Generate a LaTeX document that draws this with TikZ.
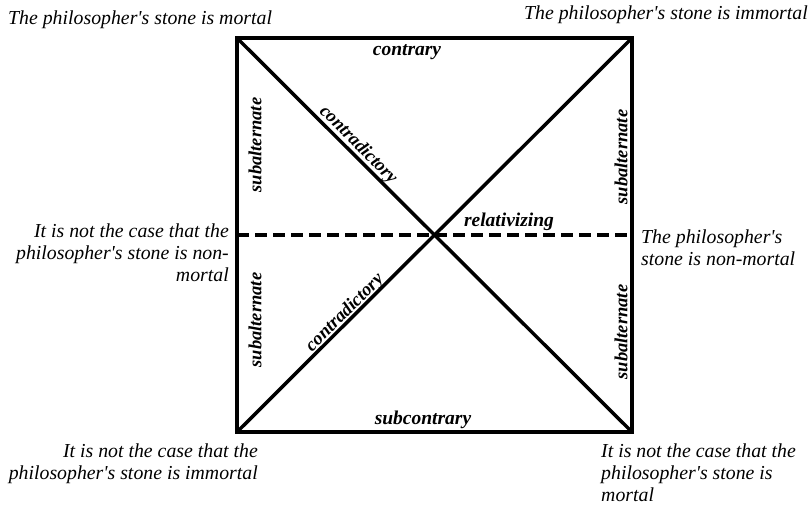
\documentclass[tikz,border=0pt]{standalone}
\usepackage{fontspec}
\setmainfont{Liberation Serif}[Ligatures=TeXOff]
\begin{document}
\begin{tikzpicture}[x=1pt,y=-1pt,
  frame/.style={line width=4pt, line join=miter},
  diag/.style={line width=3.5pt},
  dashline/.style={line width=3.5pt, dash pattern=on 12pt off 6pt},
  prop/.style={font=\fontsize{19.8}{22}\selectfont\itshape, inner sep=0pt},
  rel/.style={font=\fontsize{19.5}{21}\selectfont\bfseries\itshape, inner sep=0pt},
  relr/.style={font=\fontsize{18.5}{20}\selectfont\bfseries\itshape, inner sep=0pt}]
\useasboundingbox (0,0) rectangle (812,507);
\coordinate (TL) at (237,38);
\coordinate (TR) at (632,38);
\coordinate (BL) at (237,432);
\coordinate (BR) at (632,432);
\coordinate (ML) at (237,235);
\coordinate (MR) at (632,235);
\draw[dashline] (ML) -- (MR);
\draw[diag] (TL) -- (BR);
\draw[diag] (BL) -- (TR);
\draw[frame] (TL) -- (TR) -- (BR) -- (BL) -- cycle;
% propositions
\node[prop, anchor=base west] (A) at (8,24) {The philosopher's stone is mortal};
\node[prop, anchor=base east] (E) at (808,19) {The philosopher's stone is immortal};
\node[prop, anchor=east, align=right] (L) at (229,253) {It is not the case that the\\philosopher's stone is non-\\mortal};
\node[prop, anchor=west, align=left] (R) at (641,248) {The philosopher's\\stone is non-mortal};
\node[prop, anchor=north east, align=right] (I) at (258,444) {It is not the case that the\\philosopher's stone is immortal};
\node[prop, anchor=north west, align=left] (O) at (601,444) {It is not the case that the\\philosopher's stone is\\mortal};
% relation labels
\node[rel] (c1) at (407,52) {contrary};
\node[rel] (c2) at (423,420) {subcontrary};
\node[relr, rotate=90] (s1) at (255,145) {subalternate};
\node[relr, rotate=90] (s2) at (255,320) {subalternate};
\node[relr, rotate=90] (s3) at (621,157) {subalternate};
\node[relr, rotate=90] (s4) at (621,332) {subalternate};
\node[relr, rotate=-45] (d1) at (358,145) {contradictory};
\node[relr, rotate=45] (d2) at (345,313) {contradictory};
\node[rel] (r1) at (509,222) {relativizing};
\end{tikzpicture}
\end{document}
